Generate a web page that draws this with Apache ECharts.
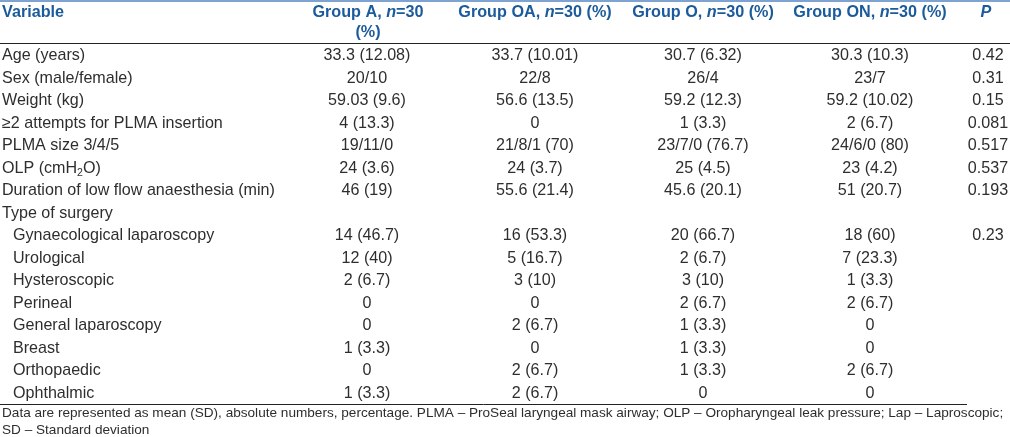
<!DOCTYPE html>
<html><head><meta charset="utf-8">
<script src="https://cdn.jsdelivr.net/npm/echarts@6/dist/echarts.min.js"></script>
<style>html,body{margin:0;padding:0;background:#fff}#c{width:1010px;height:437px}</style>
</head><body><div id="c"></div>
<script>
// ---- data ----
const headers = ['Variable', 'Group A, n=30 (%)', 'Group OA, n=30 (%)', 'Group O, n=30 (%)', 'Group ON, n=30 (%)', 'P'];
const variables = ['Age (years)', 'Sex (male/female)', 'Weight (kg)', '≥2 attempts for PLMA insertion', 'PLMA size 3/4/5', 'OLP (cmH2O)', 'Duration of low flow anaesthesia (min)', 'Type of surgery'];
const surgeryTypes = ['Gynaecological laparoscopy', 'Urological', 'Hysteroscopic', 'Perineal', 'General laparoscopy', 'Breast', 'Orthopaedic', 'Ophthalmic'];
const groupA  = ['33.3 (12.08)', '20/10', '59.03 (9.6)', '4 (13.3)', '19/11/0', '24 (3.6)', '46 (19)', '', '14 (46.7)', '12 (40)', '2 (6.7)', '0', '0', '1 (3.3)', '0', '1 (3.3)'];
const groupOA = ['33.7 (10.01)', '22/8', '56.6 (13.5)', '0', '21/8/1 (70)', '24 (3.7)', '55.6 (21.4)', '', '16 (53.3)', '5 (16.7)', '3 (10)', '0', '2 (6.7)', '0', '2 (6.7)', '2 (6.7)'];
const groupO  = ['30.7 (6.32)', '26/4', '59.2 (12.3)', '1 (3.3)', '23/7/0 (76.7)', '25 (4.5)', '45.6 (20.1)', '', '20 (66.7)', '2 (6.7)', '3 (10)', '2 (6.7)', '1 (3.3)', '1 (3.3)', '1 (3.3)', '0'];
const groupON = ['30.3 (10.3)', '23/7', '59.2 (10.02)', '2 (6.7)', '24/6/0 (80)', '23 (4.2)', '51 (20.7)', '', '18 (60)', '7 (23.3)', '1 (3.3)', '2 (6.7)', '0', '0', '2 (6.7)', '0'];
const pValues = ['0.42', '0.31', '0.15', '0.081', '0.517', '0.537', '0.193', '', '0.23', '', '', '', '', '', '', ''];
const footnotes = [
  'Data are represented as mean (SD), absolute numbers, percentage. PLMA – ProSeal laryngeal mask airway; OLP – Oropharyngeal leak pressure; Lap – Laproscopic;',
  'SD – Standard deviation'
];

// ---- layout ----
const colX = [2, 367, 535, 703, 870, 988];
const subIndent = 11;
const FONT = '"Liberation Sans", Arial, sans-serif';
const BODY = 16.1;
const HEADSIZE = 16.2;
const TXT = '#2e2e2e';
const HEAD = '#1b5b9b';

const rows = variables.concat(surgeryTypes);
const valueCols = [groupA, groupOA, groupO, groupON, pValues];

const cells = [];
rows.forEach((name, i) => {
  cells.push({ value: [colX[0] + (i >= variables.length ? subIndent : 0), i], text: name, col: 0 });
  valueCols.forEach((arr, c) => {
    if (arr[i] !== '') cells.push({ value: [colX[c + 1], i], text: arr[i], col: c + 1 });
  });
});

function fmt(t) {
  return t.replace('H2O', 'H{sub|2}{m|O}');
}

const chart = echarts.init(document.getElementById('c'), null, { renderer: 'canvas' });

function headerText(x, y, rich, align) {
  return { type: 'text', x: x, y: y, style: { text: rich, align: align, verticalAlign: 'middle',
    fill: HEAD, fontFamily: FONT, fontSize: HEADSIZE, fontWeight: 'bold',
    rich: { i: { fontStyle: 'italic', fontWeight: 'bold', fill: HEAD, fontFamily: FONT, fontSize: HEADSIZE } } } };
}

function hdr(h) {
  return h.replace(/n=/, '{i|n}=');
}

chart.setOption({
  animation: false,
  grid: { left: 0, right: 0, top: 44.5, bottom: 32.5 },
  xAxis: { type: 'value', min: 0, max: 1010, show: false },
  yAxis: { type: 'category', data: rows, inverse: true, show: false },
  series: [{
    type: 'custom',
    data: cells.map(c => c.value),
    renderItem: function (params, api) {
      const cell = cells[params.dataIndex];
      const pt = api.coord([api.value(0), api.value(1)]);
      return {
        type: 'text', x: pt[0], y: pt[1],
        style: {
          text: fmt(cell.text), align: cell.col === 0 ? 'left' : 'center', verticalAlign: 'middle',
          fill: TXT, fontFamily: FONT, fontSize: BODY,
          rich: {
            m: { fill: TXT, fontFamily: FONT, fontSize: BODY },
            sub: { fill: TXT, fontFamily: FONT, fontSize: 10.5, padding: [9, 0, 0, 0] }
          }
        }
      };
    }
  }],
  graphic: [
    { type: 'line', shape: { x1: 0, y1: 1, x2: 1010, y2: 1 }, style: { stroke: '#7fa3d1', lineWidth: 2 } },
    { type: 'line', shape: { x1: 0, y1: 43.5, x2: 1010, y2: 43.5 }, style: { stroke: '#222', lineWidth: 1 } },
    { type: 'line', shape: { x1: 0, y1: 404.5, x2: 967, y2: 404.5 }, style: { stroke: '#222', lineWidth: 1 } },
    headerText(colX[0], 13, headers[0], 'left'),
    headerText(368, 13, hdr(headers[1].replace(' (%)', '')), 'center'),
    headerText(368, 33, '(%)', 'center'),
    headerText(535, 13, hdr(headers[2]), 'center'),
    headerText(703, 13, hdr(headers[3]), 'center'),
    headerText(870, 13, hdr(headers[4]), 'center'),
    headerText(986, 13, '{i|' + headers[5] + '}', 'center'),
    { type: 'text', x: 2, y: 413, style: { text: footnotes[0], fill: TXT, fontFamily: FONT, fontSize: 13.6, verticalAlign: 'middle' } },
    { type: 'text', x: 2, y: 430, style: { text: footnotes[1], fill: TXT, fontFamily: FONT, fontSize: 13.6, verticalAlign: 'middle' } }
  ]
});
</script>
</body></html>
